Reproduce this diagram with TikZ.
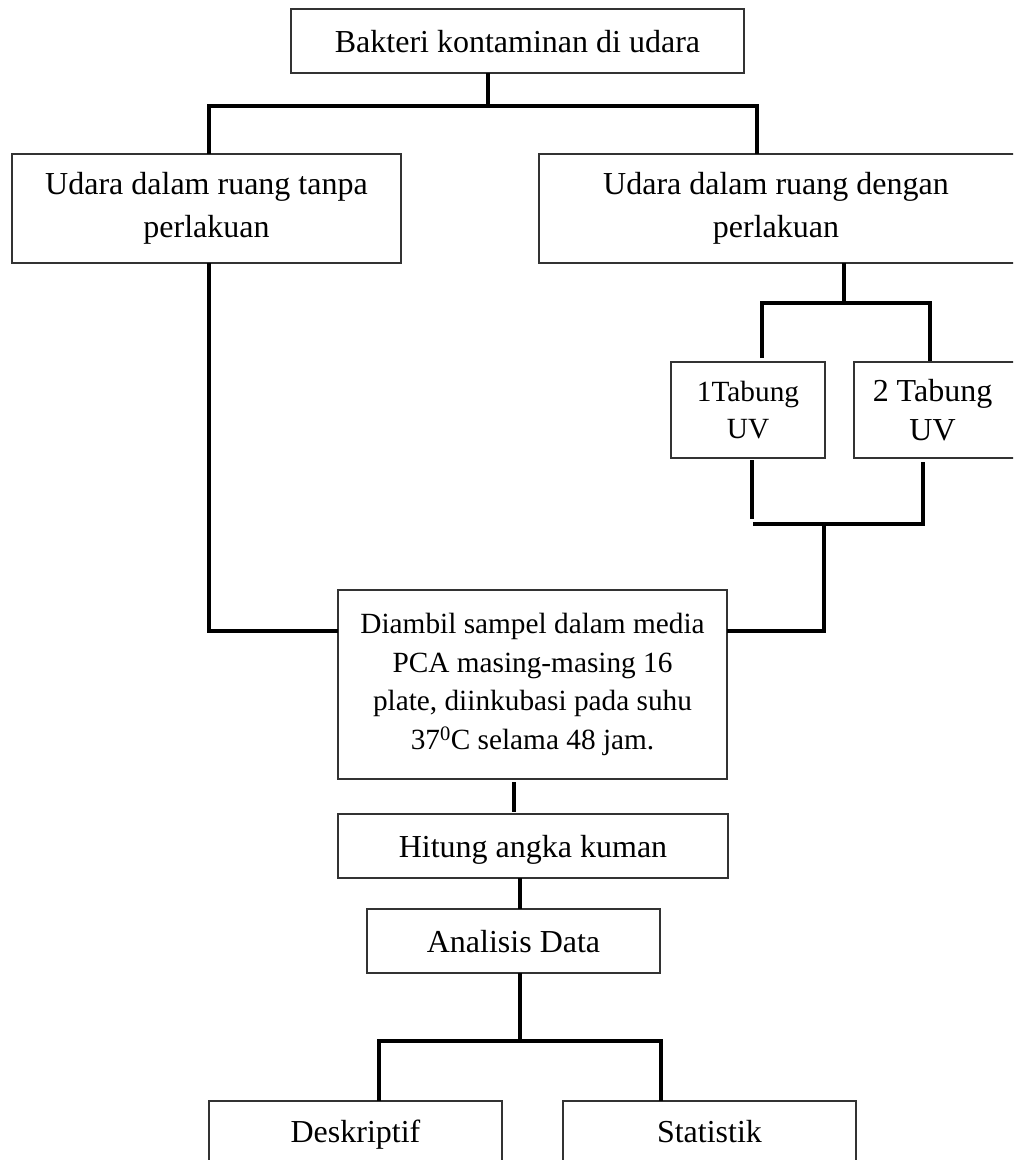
\documentclass[tikz,border=0pt]{standalone}
\usepackage{fontspec}
\setmainfont{Liberation Serif}
\begin{document}
\begin{tikzpicture}[x=1pt,y=-1pt,
  box/.style={draw=black!80,line width=1.2pt,rectangle,inner sep=0pt,outer sep=0pt,align=center},
  big/.style={font=\fontsize{32}{43}\selectfont},
  mid/.style={font=\fontsize{29.3}{38.7}\selectfont},
  oneline/.style={text height=22pt,text depth=0pt},
  conn/.style={line width=4.5pt,line join=miter,black},
  connthin/.style={line width=3.6pt,black}]
\useasboundingbox (0,0) rectangle (1013,1160);
\clip (0,0) rectangle (1013,1160);
% boxes
\node[box,big,oneline,minimum width=453pt,minimum height=64pt] (top) at (517.5,41) {Bakteri kontaminan di udara};
\node[box,big,minimum width=389pt,minimum height=109pt] (left) at (206.5,208.5) {Udara dalam ruang tanpa\\perlakuan};
\node[box,big,minimum width=477pt,minimum height=109pt] (right) at (777.5,208.5) {\hspace*{-3pt}Udara dalam ruang dengan\hspace*{0pt}\\\hspace*{-3pt}perlakuan};
\node[box,font=\fontsize{29.3}{36.5}\selectfont,minimum width=154pt,minimum height=96pt] (tab1) at (748,410) {1Tabung\\UV};
\node[box,font=\fontsize{32}{38.5}\selectfont,minimum width=162pt,minimum height=96pt] (tab2) at (935,410) {\hspace*{-5pt}2 Tabung\\\hspace*{-5pt}UV};
\node[box,mid,minimum width=389pt,minimum height=189pt] (pca) at (532.5,684.5) {Diambil sampel dalam media\\PCA masing-masing 16\\plate, diinkubasi pada suhu\\37\textsuperscript{0}C selama 48 jam.};
\node[box,big,oneline,minimum width=390pt,minimum height=64pt] (hit) at (533,846) {Hitung angka kuman};
\node[box,big,oneline,minimum width=293pt,minimum height=64pt] (ana) at (513.5,941) {Analisis Data};
\node[box,big,oneline,minimum width=293pt,minimum height=60pt] (desk) at (355.5,1131) {Deskriptif};
\node[box,big,oneline,minimum width=293pt,minimum height=60pt] (stat) at (709.5,1131) {Statistik};
% junction coordinates
\coordinate (j1) at (488,106);
\coordinate (jl) at (209,106);
\coordinate (jr) at (757,106);
\coordinate (k1) at (844,303);
\coordinate (kl) at (762,303);
\coordinate (kr) at (930,303);
\coordinate (m1) at (824,524);
\coordinate (ml) at (752,524);
\coordinate (mr) at (923,524);
\coordinate (n1) at (520,1041);
\coordinate (nl) at (379,1041);
\coordinate (nr) at (661,1041);
% connectors
\draw[conn] (top.south -| j1) -- (j1);
\draw[conn] (left.north -| jl) -- (jl) -- (jr) -- (right.north -| jr);
\draw[conn] (left.south -| jl) |- (pca.west |- 0,631);
\draw[conn] (right.south -| k1) -- (k1);
\draw[conn] ([yshift=4pt]tab1.north -| kl) -- (kl) -- (kr) -- ([yshift=1pt]tab2.north -| kr);
\draw[conn] ([yshift=-2pt]tab1.south -| ml) -- ([yshift=5pt]ml);
\draw[conn] ([yshift=-4pt]tab2.south -| mr) -- (mr) -- ([xshift=1pt]ml);
\draw[conn] (m1) |- (pca.east |- 0,631);
\draw[connthin] ([yshift=-3pt]pca.south -| 514,0) -- ([yshift=2pt]hit.north -| 514,0);
\draw[connthin] (hit.south -| 520,0) -- (ana.north -| 520,0);
\draw[conn] (ana.south -| n1) -- (n1);
\draw[conn] (desk.north -| nl) -- (nl) -- (nr) -- (stat.north -| nr);
\end{tikzpicture}
\end{document}
